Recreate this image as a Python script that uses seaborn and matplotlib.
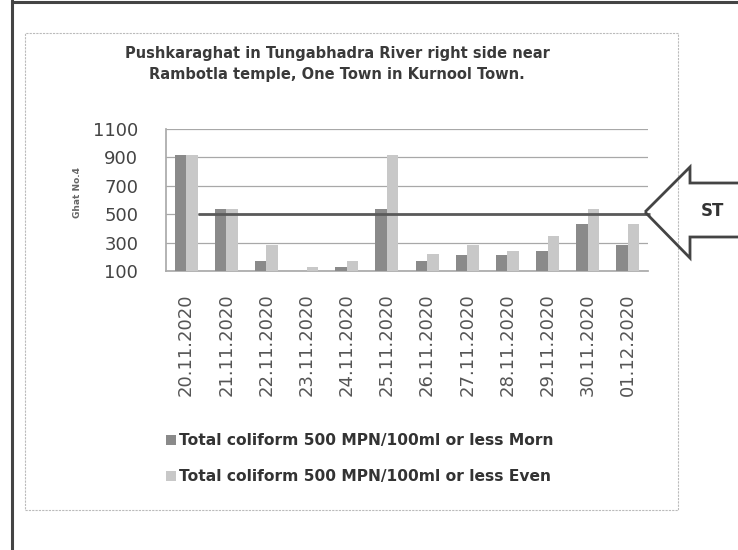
import matplotlib
matplotlib.use("Agg")
import matplotlib.pyplot as plt
import seaborn as sns
import pandas as pd
from matplotlib.patches import Polygon, Rectangle, Patch
from matplotlib.lines import Line2D

dates = ["20.11.2020", "21.11.2020", "22.11.2020", "23.11.2020", "24.11.2020",
         "25.11.2020", "26.11.2020", "27.11.2020", "28.11.2020", "29.11.2020",
         "30.11.2020", "01.12.2020"]
morn = [920, 540, 170, 94, 130, 540, 170, 210, 210, 240, 430, 280]
even = [920, 540, 280, 130, 170, 920, 220, 280, 240, 350, 540, 430]
series_names = ["Total coliform 500 MPN/100ml or less Morn",
                "Total coliform 500 MPN/100ml or less Even"]
yticks = [100, 300, 500, 700, 900, 1100]
standard = 500
title = "Pushkaraghat in Tungabhadra River right side near\nRambotla temple, One Town in Kurnool Town."

df = pd.DataFrame({
    "date": dates * 2,
    "value": morn + even,
    "series": [series_names[0]] * len(dates) + [series_names[1]] * len(dates),
})

sns.set_theme(style="white")
plt.rcParams['font.family'] = ['DejaVu Sans']

W, H = 738, 550
fig = plt.figure(figsize=(W / 100, H / 100), dpi=100)
fig.patch.set_facecolor("white")

def fx(px):
    return px / W

def fy(py):
    return 1 - py / H

ax = fig.add_axes([fx(166), fy(271), fx(648) - fx(166), fy(129) - fy(271)])
colors = ["#8a8a8a", "#c8c8c8"]
sns.barplot(data=df, x="date", y="value", hue="series", palette=colors,
            width=0.57, ax=ax, legend=False, saturation=1, zorder=3,
            linewidth=0, edgecolor="none")

ax.set_ylim(100, 1100)
ax.set_yticks(yticks)
ax.set_xlim(-0.5, len(dates) - 0.5)
ax.yaxis.grid(True, color="#a8a8a8", linewidth=0.9, zorder=0)
ax.set_axisbelow(True)
for s in ["top", "right"]:
    ax.spines[s].set_visible(False)
ax.spines["left"].set_color("#aaaaaa")
ax.spines["bottom"].set_color("#aaaaaa")
ax.tick_params(axis="y", labelsize=13, colors="#444444", pad=20, length=0)
ax.tick_params(axis="x", labelsize=13, colors="#555555", pad=16, length=0,
               labelrotation=90)
ax.set_xlabel("")
ax.set_ylabel("")
fig.text(fx(78), fy(192), "Ghat No.4", rotation=90, ha="center", va="center",
         fontsize=6.5, fontweight="bold", color="#666666")

# category boundary ticks
ax.set_xticks([i - 0.5 for i in range(len(dates) + 1)], minor=True)
ax.tick_params(axis="x", which="minor", length=4, color="#aaaaaa", direction="out")

# standard line
ax.hlines(standard, 0.29, len(dates) - 0.45, colors="#5a5a5a", linewidth=2.0,
          zorder=5, clip_on=False)

# title
fig.text(fx(337), fy(64), title, ha="center", va="center", fontsize=10.5,
         fontweight="bold", color="#3a3a3a", linespacing=1.45)

# legend
handles = [Patch(facecolor=colors[0], edgecolor="none"),
           Patch(facecolor=colors[1], edgecolor="none")]
fig.legend(handles, series_names, loc="center left",
           bbox_to_anchor=(fx(158), fy(459)), frameon=False,
           prop={"size": 11.2, "weight": "bold"}, labelcolor="#333333",
           handlelength=0.65, handleheight=0.65, handletextpad=0.2,
           labelspacing=1.35, borderpad=0)

# inner chart frame
fig.patches.append(Rectangle((fx(25), fy(510)), fx(678) - fx(25), fy(33) - fy(510),
                             transform=fig.transFigure, fill=False,
                             edgecolor="#bbbbbb", linestyle=(0, (2, 1)),
                             linewidth=0.8))
# outer border
fig.add_artist(Line2D([fx(12), fx(12)], [0, 1], color="#444444", linewidth=2.2))
fig.add_artist(Line2D([fx(12), 1], [fy(2), fy(2)], color="#444444", linewidth=2.2))

# ST arrow
pts = [(645, 212), (690, 167), (690, 183), (740, 183), (740, 237),
       (690, 237), (690, 258)]
poly = Polygon([(fx(x), fy(y)) for x, y in pts], closed=True,
               transform=fig.transFigure, facecolor="none",
               edgecolor="#444444", linewidth=2)
fig.patches.append(poly)
fig.text(fx(712), fy(211), "ST", ha="center", va="center", fontsize=12,
         fontweight="bold", color="#333333")

fig.savefig("out.png", dpi=100, facecolor="white")
